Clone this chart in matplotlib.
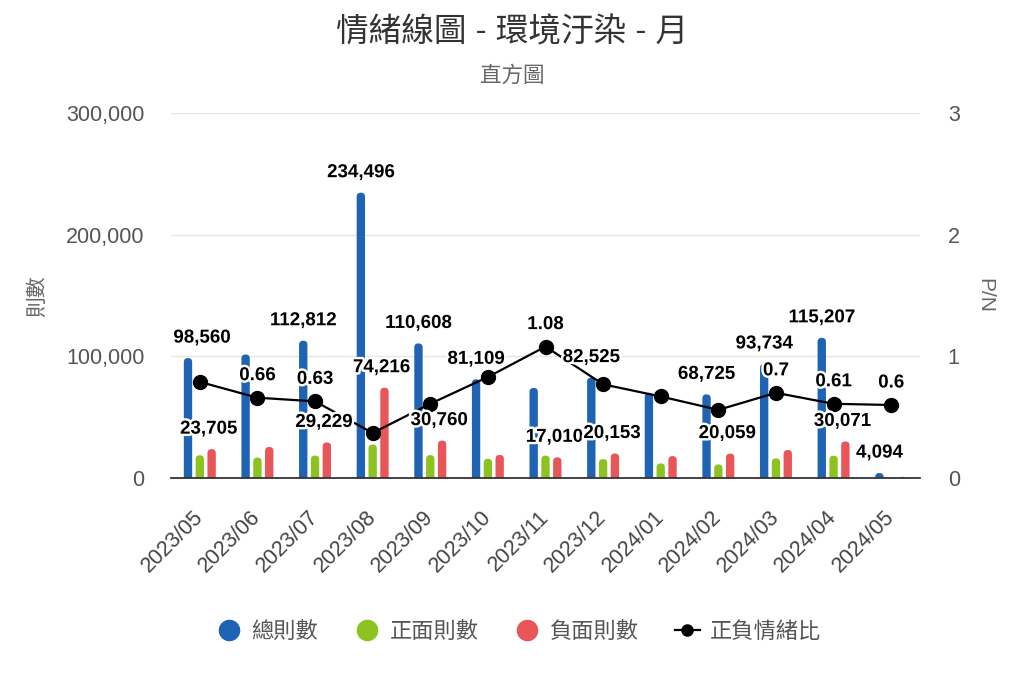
import matplotlib
matplotlib.use('Agg')
import matplotlib.pyplot as plt
from matplotlib.lines import Line2D
from matplotlib.patches import FancyBboxPatch
from matplotlib.ticker import FuncFormatter
import matplotlib.patheffects as pe

plt.rcParams['font.family'] = ['Liberation Sans', 'Noto Sans CJK TC', 'DejaVu Sans']

# ---- data ----
months = ['2023/05', '2023/06', '2023/07', '2023/08', '2023/09', '2023/10', '2023/11',
          '2023/12', '2024/01', '2024/02', '2024/03', '2024/04', '2024/05']
total = [98560, 101500, 112812, 234496, 110608, 81109, 74000, 82525, 70000, 68725, 93734, 115207, 4094]
positive = [18700, 16800, 18400, 27500, 18800, 15800, 18400, 15500, 12000, 11200, 16100, 18300, 600]
negative = [23705, 25500, 29229, 74216, 30760, 19000, 17010, 20153, 18000, 20059, 23000, 30071, 1000]
ratio = [0.79, 0.66, 0.63, 0.37, 0.61, 0.83, 1.08, 0.77, 0.67, 0.56, 0.7, 0.61, 0.6]

series_names = ['總則數', '正面則數', '負面則數', '正負情緒比']
title = '情緒線圖 - 環境汙染 - 月'
subtitle = '直方圖'
left_label = '則數'
right_label = 'P/N'

# which data labels are visible in the reference
total_shown = [0, 2, 3, 4, 5, 7, 9, 10, 11, 12]
neg_shown = [0, 2, 3, 4, 6, 7, 9, 11]
ratio_shown = [1, 2, 6, 10, 11, 12]

# ---- style ----
C_BLUE = '#1f64b4'
C_GREEN = '#8cc320'
C_RED = '#e9565a'
W = 1024
H = 683

fig = plt.figure(figsize=(W / 100, H / 100), dpi=100)
ax_box = [171 / W, 1 - 478 / H, (920 - 171) / W, (478 - 113) / H]
ax = fig.add_axes(ax_box)
x = list(range(len(months)))
bw = 0.145
off = 0.205
YMAX = 300000
ax.set_xlim(-0.5, len(months) - 0.5)
ax.set_ylim(0, YMAX)

# rounded-top bars: draw with ax.bar, then swap each rectangle for a rounded patch
px_x = (len(months)) / (ax_box[2] * W)      # x data units per pixel
px_y = YMAX / (ax_box[3] * H)               # y data units per pixel
asp = px_y / px_x
rnd = 4 * px_x
for xs, vals, col in [([i - off for i in x], total, C_BLUE),
                      (x, positive, C_GREEN),
                      ([i + off for i in x], negative, C_RED)]:
    bars = ax.bar(xs, vals, width=bw, color=col, zorder=2)
    for r in bars:
        r.set_visible(False)
        x0, w, h = r.get_x(), r.get_width(), r.get_height()
        ext = rnd * asp
        p = FancyBboxPatch((x0, -ext), w, h + ext,
                           boxstyle=f'round,pad=0,rounding_size={rnd}',
                           mutation_aspect=asp, facecolor=col, edgecolor='none', zorder=2)
        ax.add_patch(p)

ax.set_yticks([0, 100000, 200000, 300000])
ax.yaxis.set_major_formatter(FuncFormatter(lambda v, p: f'{int(v):,}'))
ax.yaxis.grid(True, color='#e6e6e6', lw=1)
ax.set_axisbelow(True)
for s in ['top', 'right', 'left']:
    ax.spines[s].set_visible(False)
ax.spines['bottom'].set_color('#333333')
ax.spines['bottom'].set_linewidth(1.3)
ax.spines['bottom'].set_zorder(4)
ax.tick_params(axis='y', length=0, pad=19, labelsize=15.5, labelcolor='#555555')
ax.set_xticks(x)
ax.set_xticklabels(months, rotation=45, ha='right', va='center', rotation_mode='anchor')
ax.tick_params(axis='x', length=0, pad=26, labelsize=15.5, labelcolor='#444444')

ax2 = ax.twinx()
ax2.set_ylim(0, 3)
ax2.set_yticks([0, 1, 2, 3])
for s in ['top', 'right', 'left', 'bottom']:
    ax2.spines[s].set_visible(False)
ax2.tick_params(axis='y', length=0, pad=20, labelsize=15.5, labelcolor='#555555')
ax2.plot(x, ratio, color='black', lw=1.6, marker='o', markersize=10, zorder=3)

stroke = [pe.withStroke(linewidth=3.5, foreground='white')]
lab_kw = dict(ha='center', va='center', fontsize=13.5, fontweight='bold', color='black',
              textcoords='offset pixels', path_effects=stroke, annotation_clip=False, zorder=5)
shift = {0: 14}
for i in total_shown:
    ax2.annotate(f'{total[i]:,}', xy=(i - off, total[i]), xycoords=ax.transData,
                 xytext=(shift.get(i, 0), 20), **lab_kw)
for i in neg_shown:
    ax2.annotate(f'{negative[i]:,}', xy=(i + off, negative[i]), xycoords=ax.transData,
                 xytext=(-3, 20), **lab_kw)
for i in ratio_shown:
    ax2.annotate(f'{ratio[i]:g}', xy=(i, ratio[i]), xycoords=ax2.transData,
                 xytext=(0, 22), **lab_kw)

fig.text(0.5, 1 - 33 / H, title, ha='center', va='center', fontsize=23.5, color='#333333')
fig.text(0.5, 1 - 76 / H, subtitle, ha='center', va='center', fontsize=15.5, color='#666666')
fig.text(38 / W, 1 - 296 / H, left_label, rotation=90, ha='center', va='center',
         fontsize=15, color='#666666')
fig.text(985 / W, 1 - 295 / H, right_label, rotation=270, ha='center', va='center',
         fontsize=15, color='#666666')

handles = [
    Line2D([], [], ls='none', marker='o', markersize=14.5, color=C_BLUE),
    Line2D([], [], ls='none', marker='o', markersize=14.5, color=C_GREEN),
    Line2D([], [], ls='none', marker='o', markersize=14.5, color=C_RED),
    Line2D([], [], color='black', lw=1.6, marker='o', markersize=8),
]
fig.legend(handles, series_names, loc='center', bbox_to_anchor=(519 / W, 1 - 632 / H), ncol=4,
           frameon=False, fontsize=16, labelcolor='#555555', handlelength=1.1,
           handletextpad=0.45, columnspacing=1.65)

fig.savefig('out.png', dpi=100)
